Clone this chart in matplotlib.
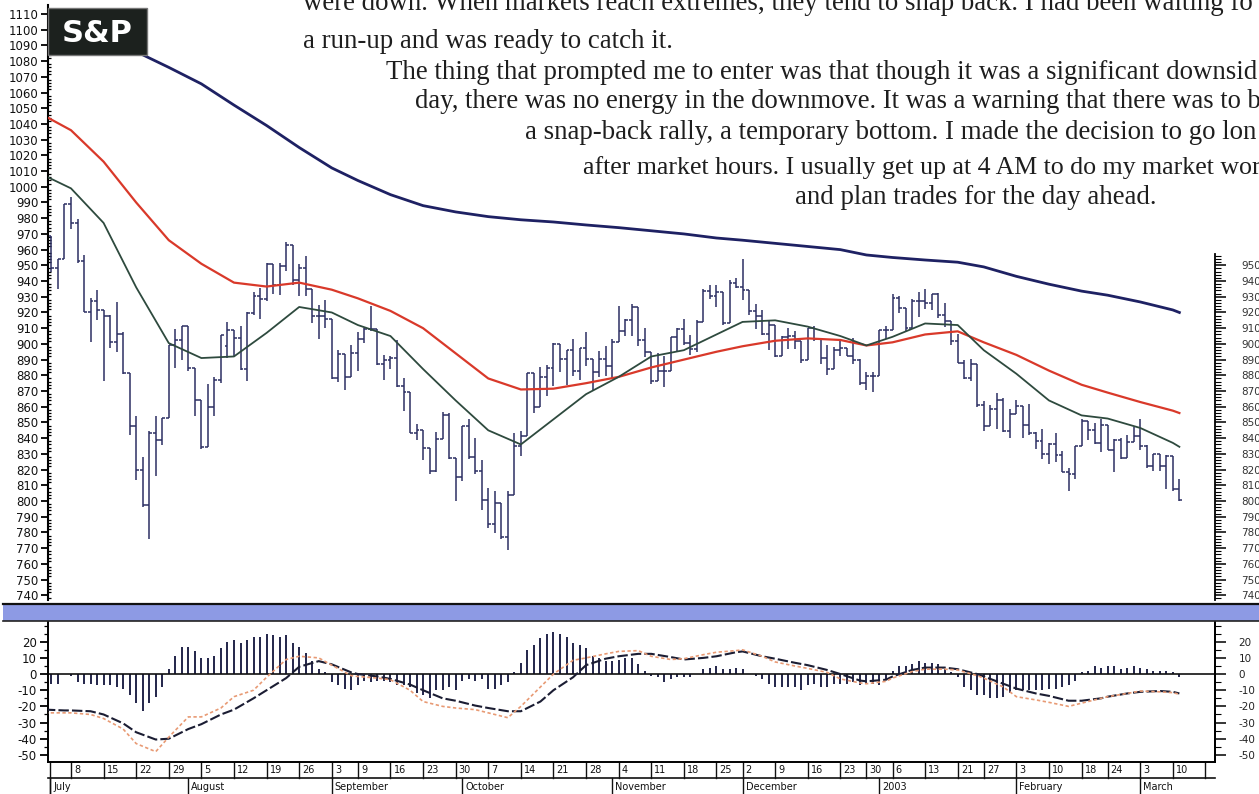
import numpy as np
import pandas as pd
import matplotlib
matplotlib.use("Agg")
import matplotlib.pyplot as plt
import matplotlib.transforms as mtrans
from matplotlib.patches import Rectangle
from matplotlib.lines import Line2D
from matplotlib.ticker import FixedLocator

# ---------------- data ----------------
holidays = ['2002-07-04', '2002-09-02', '2002-11-28', '2002-12-25',
            '2003-01-01', '2003-01-20', '2003-02-17']

opens = [989.8, 968.7, 948.1, 954.0, 989.0, 977.0, 952.8, 920.5, 927.4, 921.4,
         917.9, 901.0, 906.0, 881.6, 847.8, 819.9, 797.7, 843.4, 838.7, 852.8,
         899.0, 902.8, 911.6, 884.4, 864.2, 834.6, 859.6, 876.8, 898.7, 908.6,
         903.8, 884.2, 919.6, 930.3, 928.8, 950.7, 937.4, 949.4, 962.7, 940.9,
         948.0, 934.8, 917.9, 917.8, 916.1, 878.0, 893.4, 879.2, 893.9, 903.0,
         909.6, 909.5, 886.9, 889.8, 891.1, 873.5, 869.5, 843.3, 845.4, 833.7,
         819.3, 839.7, 855.0, 827.4, 815.3, 847.9, 827.9, 819.0, 800.6, 785.3,
         798.6, 776.8, 803.9, 835.3, 841.4, 881.3, 860.0, 879.2, 884.4, 899.7,
         890.2, 896.1, 882.5, 897.7, 890.2, 882.2, 890.7, 885.8, 901.0, 908.4,
         915.4, 923.8, 902.7, 894.7, 876.2, 883.0, 882.5, 904.3, 909.8, 900.4,
         896.7, 914.2, 933.8, 930.6, 932.9, 913.3, 938.9, 936.3, 934.5, 920.8,
         917.6, 906.6, 912.2, 892.0, 904.5, 905.0, 901.6, 889.5, 910.4, 903.0,
         891.1, 884.3, 895.8, 897.4, 892.5, 889.7, 875.4, 879.4, 879.8, 909.0,
         908.6, 929.0, 922.9, 909.9, 927.6, 927.6, 926.3, 931.7, 918.2, 914.6,
         901.8, 887.6, 878.4, 887.3, 861.4, 847.5, 858.5, 864.4, 844.6, 855.7,
         860.3, 848.2, 843.6, 838.2, 829.7, 836.0, 829.2, 818.7, 817.4, 834.9,
         851.2, 845.1, 837.1, 848.2, 832.6, 838.6, 827.6, 837.3, 841.2, 834.8,
         822.0, 829.9, 822.1, 828.9, 807.5]
highs = [994.5, 968.7, 954.3, 989.1, 993.6, 979.6, 956.3, 929.2, 934.3, 921.4,
         918.7, 926.5, 907.8, 881.6, 854.1, 827.7, 844.3, 853.8, 852.9, 899.0,
         909.8, 911.6, 911.6, 884.7, 864.2, 874.4, 878.7, 905.8, 913.9, 908.6,
         911.7, 920.2, 933.3, 935.4, 951.2, 950.7, 951.6, 965.0, 962.7, 950.8,
         955.8, 934.8, 924.6, 928.2, 916.1, 896.1, 893.4, 899.1, 907.3, 909.9,
         924.0, 909.5, 892.8, 892.0, 902.7, 878.1, 869.5, 849.3, 845.4, 833.7,
         844.2, 856.6, 856.0, 827.4, 847.9, 851.9, 840.0, 825.9, 808.2, 806.5,
         798.6, 806.5, 843.3, 844.4, 881.3, 881.3, 885.4, 886.7, 900.7, 899.7,
         896.1, 902.9, 897.7, 907.4, 890.6, 895.3, 898.8, 903.4, 924.0, 915.8,
         925.7, 923.8, 910.1, 894.7, 894.3, 892.3, 904.3, 910.2, 915.9, 905.5,
         915.0, 935.1, 937.2, 937.2, 932.9, 940.4, 941.8, 954.3, 934.5, 925.3,
         921.5, 915.5, 912.2, 904.9, 909.9, 908.4, 901.6, 910.4, 911.2, 903.0,
         899.2, 897.8, 902.4, 897.4, 903.9, 890.5, 882.1, 881.9, 909.0, 911.3,
         931.8, 930.8, 922.9, 928.3, 932.9, 935.1, 931.7, 932.6, 926.0, 914.6,
         906.0, 889.7, 890.2, 887.3, 863.9, 860.8, 868.7, 865.5, 858.3, 864.6,
         860.3, 861.6, 844.2, 845.7, 837.2, 843.0, 832.1, 821.3, 834.9, 852.0,
         851.2, 849.4, 852.3, 848.2, 839.6, 840.1, 842.2, 847.0, 852.3, 835.4,
         829.9, 829.9, 829.0, 828.9, 814.3]
lows = [967.4, 945.5, 934.9, 954.0, 972.9, 951.7, 920.3, 900.9, 915.0, 876.5,
        897.1, 895.0, 880.6, 842.1, 813.3, 796.1, 775.7, 816.1, 835.9, 852.8,
        884.7, 889.9, 882.5, 853.9, 833.4, 834.6, 854.1, 875.2, 890.8, 892.4,
        883.6, 876.2, 918.2, 915.6, 927.2, 931.9, 931.3, 946.4, 937.2, 930.4,
        930.4, 913.2, 903.3, 910.2, 877.5, 875.7, 870.5, 879.2, 882.9, 900.5,
        908.5, 886.7, 877.0, 884.1, 872.4, 857.4, 843.1, 839.1, 825.8, 817.4,
        818.5, 839.7, 826.8, 800.2, 812.8, 826.5, 817.3, 794.1, 782.9, 779.5,
        775.8, 768.6, 803.9, 828.9, 841.4, 856.3, 860.0, 866.6, 873.1, 882.4,
        873.8, 879.6, 877.0, 886.1, 870.4, 879.2, 879.8, 877.7, 901.0, 904.9,
        905.0, 898.7, 891.6, 874.6, 876.2, 872.8, 882.5, 895.4, 899.5, 893.1,
        894.9, 914.2, 928.4, 923.3, 912.1, 913.3, 935.6, 927.7, 918.7, 909.5,
        905.9, 895.9, 891.5, 892.0, 896.5, 897.0, 887.8, 889.5, 901.7, 887.5,
        880.3, 884.3, 892.3, 892.3, 887.5, 873.6, 870.6, 869.5, 879.8, 903.1,
        908.6, 919.9, 908.3, 909.9, 917.0, 922.1, 921.7, 916.7, 911.0, 899.0,
        887.6, 877.6, 876.2, 859.7, 844.3, 847.5, 845.9, 843.7, 840.3, 855.7,
        840.2, 842.1, 833.3, 826.7, 823.5, 825.1, 818.5, 806.3, 814.0, 834.9,
        838.8, 836.6, 831.5, 832.2, 818.5, 826.7, 827.6, 837.3, 832.7, 821.1,
        819.0, 819.0, 807.7, 806.6, 800.3]
closes = [968.7, 948.1, 954.0, 989.0, 977.0, 952.8, 920.5, 927.4, 921.4, 917.9,
          900.9, 906.0, 881.6, 847.8, 819.9, 797.7, 843.4, 838.7, 852.8, 899.0,
          902.8, 911.6, 884.7, 864.2, 834.6, 859.6, 876.8, 905.5, 908.6, 903.8,
          884.2, 919.6, 930.3, 928.8, 950.7, 937.4, 949.4, 962.7, 940.9, 948.0,
          934.8, 917.9, 917.8, 916.1, 878.0, 893.4, 879.2, 893.9, 903.0, 909.6,
          909.5, 886.9, 889.8, 891.1, 873.5, 869.5, 843.3, 845.4, 833.7, 819.3,
          839.7, 855.0, 827.4, 815.3, 847.9, 827.9, 819.0, 800.6, 785.3, 798.6,
          776.8, 803.9, 835.3, 841.4, 881.3, 860.0, 879.2, 884.4, 899.7, 890.2,
          896.1, 882.5, 897.7, 890.2, 882.2, 890.7, 885.8, 901.0, 908.4, 915.4,
          923.8, 902.7, 894.7, 876.2, 883.0, 882.5, 904.3, 909.8, 900.4, 896.7,
          914.2, 933.8, 930.6, 932.9, 913.3, 938.9, 936.3, 934.5, 920.8, 917.6,
          906.6, 912.2, 892.0, 904.5, 905.0, 901.6, 889.5, 910.4, 903.0, 891.1,
          884.3, 895.8, 897.4, 892.5, 889.7, 875.4, 879.4, 879.8, 909.0, 908.6,
          929.0, 922.9, 909.9, 927.6, 927.6, 926.3, 931.7, 918.2, 914.6, 901.8,
          887.6, 878.4, 887.3, 861.4, 847.5, 858.5, 864.4, 844.6, 855.7, 860.3,
          848.2, 843.6, 838.2, 829.7, 836.0, 829.2, 818.7, 817.4, 834.9, 851.2,
          845.1, 837.1, 848.2, 832.6, 838.6, 827.6, 837.3, 841.2, 834.8, 822.0,
          829.9, 822.1, 828.9, 807.5, 800.7]

macd_hist = [-5, -6, -6, 0, -1, -5, -6, -6, -7, -7, -7, -8, -9, -13, -18, -23, -18, -14, -8, 3,
             11, 17, 17, 14, 10, 10, 11, 16, 20, 21,
             19, 21, 23, 23, 25, 24, 23, 24, 19, 17,
             13, 8, 3, 1, -5, -7, -9, -10, -7, -4,
             -5, -4, -4, -5, -7, -7, -8, -12, -13, -15,
             -10, -10, -8, -10, -4, -3, -4, -3, -9, -9,
             -7, -5, 1, 7, 15, 18, 22, 25, 26, 25,
             23, 19, 18, 16, 11, 10, 8, 8, 9, 10,
             10, 6, 2, -1, -2, -5, -3, -2, -2, -2,
             0, 3, 4, 5, 3, 3, 4, 3, 0, -1,
             -3, -6, -8, -8, -8, -8, -10, -7, -6, -8,
             -8, -6, -6, -6, -5, -7, -6, -6, -7, -3,
             2, 5, 5, 6, 8, 7, 7, 6, 3, 1,
             -2, -8, -10, -13, -13, -15, -15, -14, -12, -10,
             -10, -10, -10, -10, -9, -9, -8, -7, -4, 1,
             2, 5, 4, 5, 5, 3, 4, 5, 4, 3,
             2, 2, 2, 1, -2]

ma_dates = ['2002-07-01', '2002-07-08', '2002-07-15', '2002-07-22', '2002-07-29',
            '2002-08-05', '2002-08-12', '2002-08-19', '2002-08-26', '2002-09-03',
            '2002-09-09', '2002-09-16', '2002-09-23', '2002-09-30', '2002-10-07',
            '2002-10-14', '2002-10-21', '2002-10-28', '2002-11-04', '2002-11-11',
            '2002-11-18', '2002-11-25', '2002-12-02', '2002-12-09', '2002-12-16',
            '2002-12-23', '2002-12-30', '2003-01-06', '2003-01-13', '2003-01-21',
            '2003-01-27', '2003-02-03', '2003-02-10', '2003-02-18', '2003-02-24',
            '2003-03-03', '2003-03-10', '2003-03-11']
ma_short = [1007, 999, 977, 936, 900.5, 891, 892, 907, 923.5, 920,
            912, 905, 884, 864, 845, 836, 852, 868, 879, 892,
            896, 906, 914, 915, 911, 905, 899, 904.5, 913, 912,
            896, 881, 864, 854.5, 852.5, 846.5, 837, 834.5]
ma_mid = [1045, 1036, 1016, 990, 966, 951, 939, 936.5, 939, 934.5,
          929, 921, 910, 894, 878, 871, 871.5, 875, 879, 885,
          890, 895, 898.5, 902, 903.5, 902.5, 899, 901, 906, 908,
          901, 893, 883, 874, 869, 863, 857.5, 856]
ma_long = [1111, 1104, 1095, 1086, 1076, 1065.5, 1052, 1039, 1025, 1012,
           1004, 995, 988, 984, 981, 979, 977.6, 975.7, 974, 972,
           970, 967.4, 966, 964, 962, 960, 956.6, 955, 953.4, 952,
           949, 943, 938, 933.6, 931, 926.7, 921.6, 920]

macd_dates = ['2002-07-01', '2002-07-05', '2002-07-08', '2002-07-11', '2002-07-15',
              '2002-07-18', '2002-07-22', '2002-07-25', '2002-07-29', '2002-08-01',
              '2002-08-05', '2002-08-08', '2002-08-12', '2002-08-15', '2002-08-19',
              '2002-08-22', '2002-08-26', '2002-08-29', '2002-09-03', '2002-09-06',
              '2002-09-09', '2002-09-12', '2002-09-16', '2002-09-19', '2002-09-23',
              '2002-09-26', '2002-09-30', '2002-10-03', '2002-10-07', '2002-10-10',
              '2002-10-14', '2002-10-17', '2002-10-21', '2002-10-24', '2002-10-28',
              '2002-10-31', '2002-11-04', '2002-11-07', '2002-11-11', '2002-11-14',
              '2002-11-18', '2002-11-21', '2002-11-25', '2002-11-29', '2002-12-02',
              '2002-12-05', '2002-12-09', '2002-12-12', '2002-12-16', '2002-12-19',
              '2002-12-23', '2002-12-27', '2002-12-30', '2003-01-03', '2003-01-06',
              '2003-01-09', '2003-01-13', '2003-01-16', '2003-01-21', '2003-01-24',
              '2003-01-27', '2003-01-30', '2003-02-03', '2003-02-06', '2003-02-10',
              '2003-02-13', '2003-02-18', '2003-02-21', '2003-02-24', '2003-02-27',
              '2003-03-03', '2003-03-06', '2003-03-10', '2003-03-11']
macd_line = [-22, -22.5, -22.5, -23, -25, -30.5, -36, -40.5, -40, -34,
             -31, -25, -22, -15, -10, -2.5, 4.5, 8, 6, 1,
             0, -1.5, -3, -6.5, -10, -15, -16.5, -19.5, -21, -23,
             -23, -17, -10, -2, 5.5, 9.5, 11, 12.5, 12.5, 10.5,
             9, 10, 11, 13.5, 14, 11, 9.5, 7, 5.5, 2.5,
             0, -4, -4.5, -3.5, -1.5, 2.5, 4, 4, 3, 0,
             -1.5, -6, -9, -12, -13.5, -16.5, -16.5, -15, -14, -12,
             -11, -10.5, -11, -12]
signal_line = [-24, -24, -24, -25, -27.5, -34, -43, -48, -39, -26.5,
               -26.5, -21, -14, -10, -2, 9, 11, 10, 5.5, -1,
               -1.5, -2.5, -3.5, -10, -17, -20, -21, -22, -24, -27,
               -20, -8, 0, 8.5, 10, 12.5, 14, 14.5, 11, 9,
               9.5, 12, 13.5, 14.5, 15, 11, 7.5, 5, 3.5, 1,
               -3, -5.5, -6, -4.5, -2.5, 1.5, 3, 3, 2.5, -1,
               -2.5, -8, -14, -16, -17.5, -20, -18, -15, -14, -12,
               -10.5, -11, -11.5, -12.5]

week_ticks = ['2002-07-08', '2002-07-15', '2002-07-22', '2002-07-29', '2002-08-05',
              '2002-08-12', '2002-08-19', '2002-08-26', '2002-09-03', '2002-09-09',
              '2002-09-16', '2002-09-23', '2002-09-30', '2002-10-07', '2002-10-14',
              '2002-10-21', '2002-10-28', '2002-11-04', '2002-11-11', '2002-11-18',
              '2002-11-25', '2002-12-02', '2002-12-09', '2002-12-16', '2002-12-23',
              '2002-12-30', '2003-01-06', '2003-01-13', '2003-01-21', '2003-01-27',
              '2003-02-03', '2003-02-10', '2003-02-18', '2003-02-24', '2003-03-03',
              '2003-03-10', '2003-03-17']
week_labels = ['8', '15', '22', '29', '5', '12', '19', '26', '3', '9',
               '16', '23', '30', '7', '14', '21', '28', '4', '11', '18',
               '25', '2', '9', '16', '23', '30', '6', '13', '21', '27',
               '3', '10', '18', '24', '3', '10', '']
month_starts = ['2002-07-01', '2002-08-01', '2002-09-03', '2002-10-01', '2002-11-01',
                '2002-12-02', '2003-01-02', '2003-02-03', '2003-03-03']
month_labels = ['July', 'August', 'September', 'October', 'November',
                'December', '2003', 'February', 'March']

price_ticks = list(range(740, 1111, 10))
right_ticks = list(range(740, 951, 10))
macd_ticks = [20, 10, 0, -10, -20, -30, -40, -50]

# book text as visible on the page (right side runs off the page)
text_lines = [
    "were down. When markets reach extremes, they tend to snap back. I had been waiting fo",
    "a run-up and was ready to catch it.",
    "The thing that prompted me to enter was that though it was a significant downsid",
    "day, there was no energy in the downmove. It was a warning that there was to b",
    "a snap-back rally, a temporary bottom. I made the decision to go lon",
    "after market hours. I usually get up at 4 AM to do my market wor",
    "and plan trades for the day ahead.",
]

# ---------------- calendar ----------------
cal = pd.bdate_range('2002-07-01', '2003-03-21')
cal = cal[~cal.isin(pd.to_datetime(holidays))]


def xpos(dates):
    return np.array([cal.get_loc(pd.Timestamp(d)) for d in dates])


assert len(opens) == len(highs) == len(lows) == len(closes) == len(macd_hist)
assert len(ma_dates) == len(ma_short) == len(ma_mid) == len(ma_long)
assert len(macd_dates) == len(macd_line) == len(signal_line)

# ---------------- layout ----------------
W, H = 1259, 794
fig = plt.figure(figsize=(W / 100, H / 100), dpi=100)
fig.patch.set_facecolor('white')


def box(l, t, r, b):
    return [l / W, 1 - b / H, (r - l) / W, (b - t) / H]


X0, X1 = 48, 1215
PX0, PXD = 44.9, 6.52   # pixel of first trading day, pixels per trading day
XLIM = ((X0 - PX0) / PXD, (X1 - PX0) / PXD)

ax = fig.add_axes(box(X0, 5, X1, 600))
ax2 = fig.add_axes(box(X0, 622, X1, 762))

bar_c = '#2c2f63'
x = np.arange(len(closes))

# ---------------- price panel ----------------
ax.vlines(x, lows, highs, color=bar_c, lw=1.1, zorder=2)
ax.hlines(opens, x - 0.45, x, color=bar_c, lw=1.1, zorder=2)
ax.hlines(closes, x, x + 0.45, color=bar_c, lw=1.1, zorder=2)

ax.plot(xpos(ma_dates), ma_long, color='#1e2163', lw=2.0, zorder=3)
ax.plot(xpos(ma_dates), ma_mid, color='#d9392a', lw=1.6, zorder=3)
ax.plot(xpos(ma_dates), ma_short, color='#2e4a3e', lw=1.3, zorder=3)

ax.set_xlim(*XLIM)
ax.set_ylim(737.0, 1115.7)
for s in ['top', 'right', 'bottom']:
    ax.spines[s].set_visible(False)
ax.spines['left'].set_linewidth(1.5)
ax.set_xticks([])
ax.set_yticks(price_ticks)
ax.set_yticklabels([str(v) for v in price_ticks])
ax.yaxis.set_minor_locator(FixedLocator([v for v in np.arange(738, 1114, 2) if v % 10]))
ax.tick_params(axis='y', which='major', direction='out', length=5, width=1.3,
               pad=2, labelsize=8.5, labelcolor='#111111')
ax.tick_params(axis='y', which='minor', direction='in', length=2.5, width=0.9)

axr = ax.twinx()
axr.set_ylim(ax.get_ylim())
for s in ['top', 'left', 'bottom']:
    axr.spines[s].set_visible(False)
axr.spines['right'].set_bounds(737, 957)
axr.spines['right'].set_linewidth(1.3)
axr.set_yticks(right_ticks)
axr.set_yticklabels([str(v) for v in right_ticks])
axr.yaxis.set_minor_locator(FixedLocator([v for v in np.arange(738, 957, 2) if v % 10]))
axr.tick_params(axis='y', which='major', direction='out', length=8, width=1.1,
                pad=11, labelsize=7.5, labelcolor='#333333')
axr.tick_params(axis='y', which='minor', direction='out', length=4, width=0.8)

# S&P badge
fig.patches.append(Rectangle((48 / W, 1 - 55 / H), 99 / W, 47 / H, transform=fig.transFigure,
                             facecolor='#1c211e', edgecolor='#777777', lw=1.0, zorder=10))
fig.text(97 / W, 1 - 33 / H, 'S&P', color='white', fontsize=22, fontweight='bold',
         ha='center', va='center', zorder=11)

# separator band
fig.patches.append(Rectangle((3 / W, 1 - 621 / H), (W - 3) / W, 17 / H, transform=fig.transFigure,
                             facecolor='#8d9ae4', edgecolor='none', zorder=5))
fig.lines.append(Line2D([3 / W, 1], [1 - 603.5 / H] * 2, transform=fig.transFigure,
                        color='#111111', lw=1.6, zorder=6))
fig.lines.append(Line2D([3 / W, 1], [1 - 621 / H] * 2, transform=fig.transFigure,
                        color='#222222', lw=1.2, zorder=6))

# ---------------- MACD panel ----------------
ax2.vlines(x, 0, macd_hist, color='#22254a', lw=1.4, zorder=2)
ax2.axhline(0, color='#111111', lw=1.2, zorder=2)
ax2.plot(xpos(macd_dates), macd_line, color='#1b1d33', lw=1.5, ls=(0, (5, 1.5)), zorder=3)
ax2.plot(xpos(macd_dates), signal_line, color='#e89a74', lw=1.2, ls=(0, (2, 1.5)), zorder=3)
ax2.set_xlim(*XLIM)
ax2.set_ylim(-54.4, 32.2)
ax2.spines['top'].set_visible(False)
for s in ['left', 'right', 'bottom']:
    ax2.spines[s].set_linewidth(1.4)
ax2.set_xticks([])
ax2.set_yticks(macd_ticks)
ax2.set_yticklabels([str(v) for v in macd_ticks])
ax2.yaxis.set_minor_locator(FixedLocator([30, 25, 15, 5, -5, -15, -25, -35, -45]))
ax2.tick_params(axis='y', which='major', direction='out', length=6, width=1.3,
                pad=2, labelsize=8.5, labelcolor='#111111')
ax2.tick_params(axis='y', which='minor', direction='out', length=3, width=0.9)

ax2r = ax2.twinx()
ax2r.set_ylim(ax2.get_ylim())
for s in ['top', 'left', 'bottom']:
    ax2r.spines[s].set_visible(False)
ax2r.spines['right'].set_linewidth(1.4)
ax2r.set_yticks(macd_ticks)
ax2r.set_yticklabels([str(v) for v in macd_ticks])
ax2r.yaxis.set_minor_locator(FixedLocator([30, 25, 15, 5, -5, -15, -25, -35, -45]))
ax2r.tick_params(axis='y', which='major', direction='out', length=8, width=1.1,
                 pad=9, labelsize=7.5, labelcolor='#222222')
ax2r.tick_params(axis='y', which='minor', direction='out', length=4, width=0.8)

# ---------------- date strip ----------------
trans = mtrans.blended_transform_factory(ax2.transData, ax2.transAxes)
row_bot = -16 / 140
mon_bot = -33 / 140
ax2.add_line(Line2D([0, 1], [row_bot, row_bot], transform=ax2.transAxes, color='#111111',
                    lw=1.2, clip_on=False))
ax2.add_line(Line2D([XLIM[0] + 0.3] * 2, [mon_bot, 0], transform=trans, color='#111111',
                    lw=1.0, clip_on=False))
for d, lab in zip(week_ticks, week_labels):
    xi = xpos([d])[0]
    ax2.add_line(Line2D([xi, xi], [row_bot, 0], transform=trans, color='#111111', lw=1.0,
                        clip_on=False))
    if lab:
        ax2.annotate(lab, (xi, row_bot / 2), xycoords=trans, xytext=(2.2, 0),
                     textcoords='offset points', ha='left', va='center', fontsize=7,
                     color='#111111', annotation_clip=False)
for d, lab in zip(month_starts, month_labels):
    xi = max(xpos([d])[0], XLIM[0] + 0.3)
    ax2.add_line(Line2D([xi, xi], [mon_bot, row_bot], transform=trans, color='#111111',
                        lw=1.0, clip_on=False))
    ax2.annotate(lab, (xi, (row_bot + mon_bot) / 2), xycoords=trans, xytext=(2.2, 0),
                 textcoords='offset points', ha='left', va='center', fontsize=7,
                 color='#111111', annotation_clip=False)

# ---------------- book text ----------------
line_x = [303, 303, 386, 415, 525, 583, 795]
line_base = [10, 48, 79, 108, 139, 174, 204]
fig.canvas.draw()
renderer = fig.canvas.get_renderer()


def text_width(s, size):
    t = fig.text(0, 0, s, fontsize=size, family='Liberation Serif')
    w = t.get_window_extent(renderer).width
    t.remove()
    return w


fs = 20 * 363 / text_width(text_lines[-1], 20)
for s, lx, lb in zip(text_lines, line_x, line_base):
    size = fs
    w = text_width(s, size)
    if lx + w > W - 1:           # justified lines run to the page edge
        size = fs * (W - 1 - lx) / w
    fig.text(lx / W, 1 - lb / H, s, fontsize=size, family='Liberation Serif',
             color='#1e1e1e', ha='left', va='baseline', zorder=12)

fig.savefig('out.png', dpi=100, facecolor='white')
